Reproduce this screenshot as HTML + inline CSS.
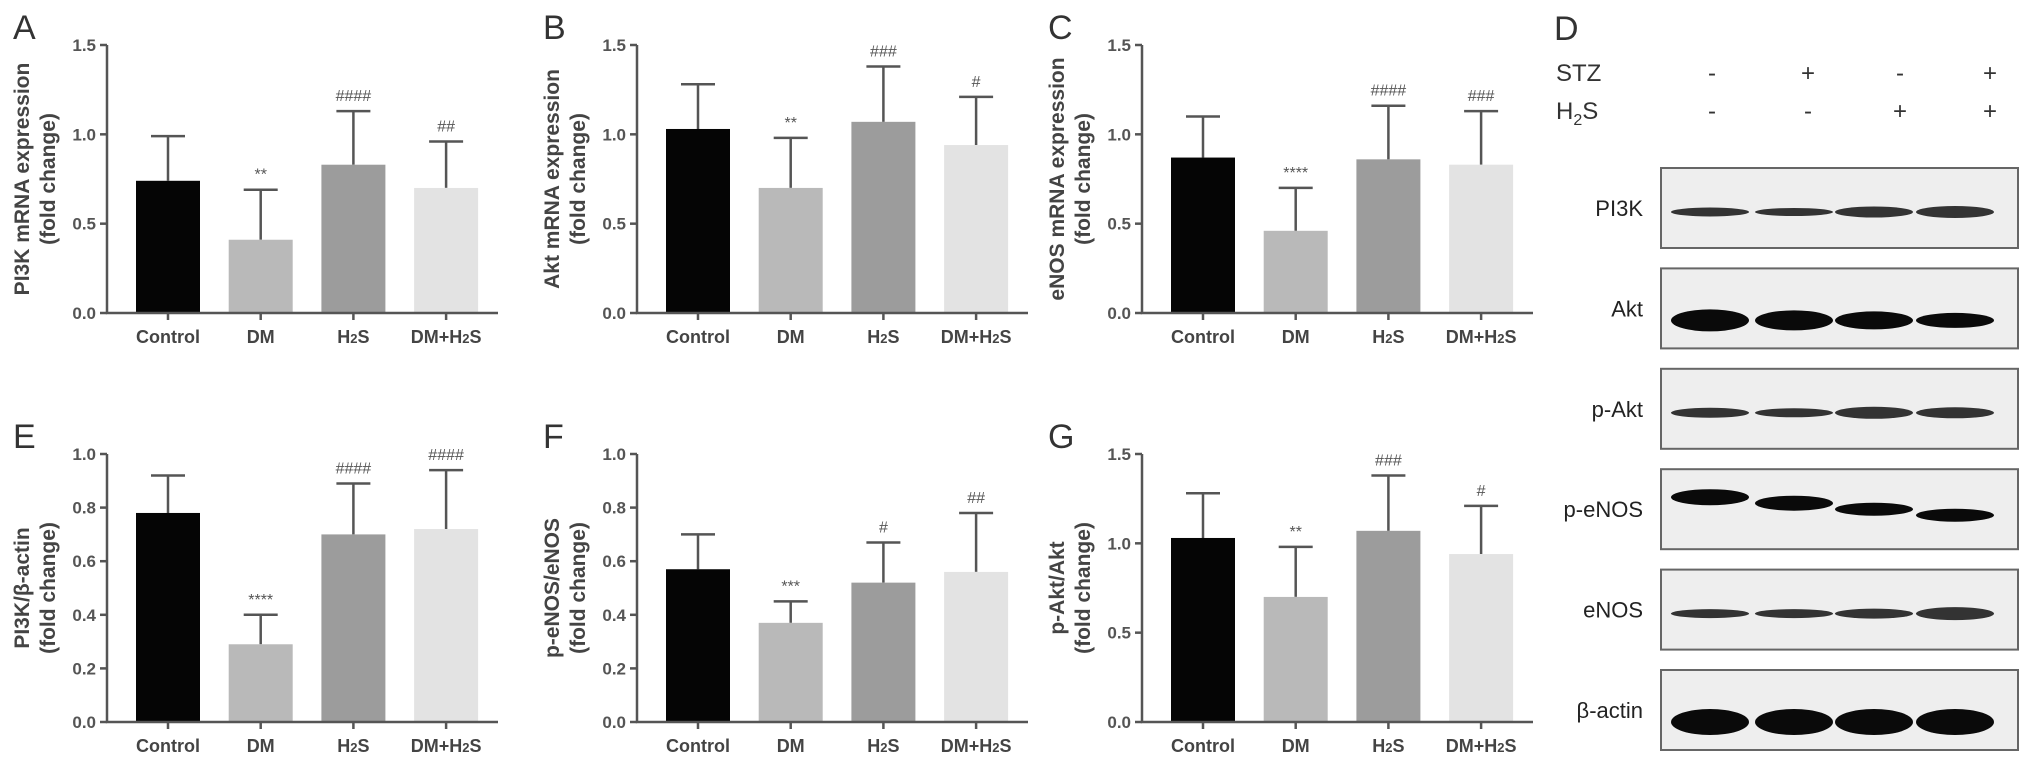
<!DOCTYPE html>
<html><head><meta charset="utf-8">
<style>
html,body{margin:0;padding:0;background:#fff;}
svg{display:block;font-family:"Liberation Sans",Arial,sans-serif;}
</style></head>
<body>
<svg id="fig" width="2031" height="764" viewBox="0 0 2031 764" xmlns="http://www.w3.org/2000/svg"></svg>
<script>
const categories = ["Control","DM","H2S","DM+H2S"];
const meansA = [0.74,0.41,0.83,0.70];
const errA   = [0.25,0.28,0.30,0.26];
const sigA   = ["","**","####","##"];
const meansB = [1.03,0.70,1.07,0.94];
const errB   = [0.25,0.28,0.31,0.27];
const sigB   = ["","**","###","#"];
const meansC = [0.87,0.46,0.86,0.83];
const errC   = [0.23,0.24,0.30,0.30];
const sigC   = ["","****","####","###"];
const meansE = [0.78,0.29,0.70,0.72];
const errE   = [0.14,0.11,0.19,0.22];
const sigE   = ["","****","####","####"];
const meansF = [0.57,0.37,0.52,0.56];
const errF   = [0.13,0.08,0.15,0.22];
const sigF   = ["","***","#","##"];
const meansG = [1.03,0.70,1.07,0.94];
const errG   = [0.25,0.28,0.31,0.27];
const sigG   = ["","**","###","#"];
const ticks15 = [0,0.5,1.0,1.5];
const ticks10 = [0,0.2,0.4,0.6,0.8,1.0];
const barColors = ["#050505","#b9b9b9","#9c9c9c","#e3e3e3"];

const NS="http://www.w3.org/2000/svg";
const svg=document.getElementById('fig');
function mk(tag,attrs,parent){const e=document.createElementNS(NS,tag);for(const k in attrs)e.setAttribute(k,attrs[k]);(parent||svg).appendChild(e);return e;}

function panel(key,letter,ax,top,zero,ymax,ticks,means,errs,sigs,title1,title2){
  const g=mk('g',{});
  
  
  const axEnd=ax+391;
  const y=v=>zero-(v/ymax)*(zero-top);
  const xc=i=>ax+61+i*92.7;
  const L=mk('text',{x:ax-94,y:top-6,'font-size':34,fill:'#333'},g);
  L.textContent=letter;
  
  
  means.forEach((m,i)=>{
    const x=xc(i);
    const eb=mk('path',{d:`M${x} ${y(m)}V${y(m+errs[i])}M${x-17} ${y(m+errs[i])}H${x+17}`,stroke:'#555','stroke-width':2.5,fill:'none'},g);
    
    
    const r=mk('rect',{x:x-32,y:y(m),width:64,height:zero-y(m),fill:barColors[i]},g);
    
    
    if(sigs[i]){
      const s=mk('text',{x:x,y:y(m+errs[i])-10,'font-size':16,'text-anchor':'middle',fill:'#555'},g);
      s.textContent=sigs[i];
      
      
    }
    const c=mk('text',{x:x,y:zero+30,'font-size':18,'font-weight':'bold','text-anchor':'middle',fill:'#444'},g);
    
    
    const lab=categories[i];
    if(lab.indexOf('H2S')>=0){
      c.textContent=lab.replace('H2S','H');
      const sub=mk('tspan',{'font-size':13},c);sub.textContent='2';
      const t2=mk('tspan',{},c);t2.textContent='S';
    } else c.textContent=lab;
  });
  const axl=mk('path',{d:`M${ax} ${top}V${zero}H${axEnd}`,stroke:'#555','stroke-width':2.5,fill:'none'},g);
  
  
  ticks.forEach(t=>{
    mk('path',{d:`M${ax-7} ${y(t)}H${ax}`,stroke:'#555','stroke-width':2.5},g);
    const tl=mk('text',{x:ax-11,y:y(t)+6,'font-size':17,'text-anchor':'end',fill:'#555','font-weight':'bold'},g);
    tl.textContent=t.toFixed(1);
    
    
  });
  categories.forEach((c,i)=>mk('path',{d:`M${xc(i)} ${zero}V${zero+7}`,stroke:'#555','stroke-width':2.5},g));
  const mid=(top+zero)/2;
  const t=mk('text',{transform:`translate(${ax-78},${mid}) rotate(-90)`,'font-size':21,'text-anchor':'middle',fill:'#444','font-weight':'bold'},g);
  
  
  const s1=mk('tspan',{x:0,dy:0},t);s1.textContent=title1;
  const s2=mk('tspan',{x:0,dy:26},t);s2.textContent=title2;
}
panel('a','A',107,45,313,1.5,ticks15,meansA,errA,sigA,'PI3K mRNA expression','(fold change)');
panel('b','B',637,45,313,1.5,ticks15,meansB,errB,sigB,'Akt mRNA expression','(fold change)');
panel('c','C',1142,45,313,1.5,ticks15,meansC,errC,sigC,'eNOS mRNA expression','(fold change)');
panel('e','E',107,454,722,1.0,ticks10,meansE,errE,sigE,'PI3K/β-actin','(fold change)');
panel('f','F',637,454,722,1.0,ticks10,meansF,errF,sigF,'p-eNOS/eNOS','(fold change)');
panel('g','G',1142,454,722,1.5,ticks15,meansG,errG,sigG,'p-Akt/Akt','(fold change)');

const blotNames=["PI3K","Akt","p-Akt","p-eNOS","eNOS","β-actin"];
const bandThick=[[9,8,11,12],[22,20,18,15],[10,9,12,11],[16,15,13,13],[9,9,10,13],[26,26,26,26]];
const stzSigns=["-","+","-","+"];
const h2sSigns=["-","-","+","+"];
const signX=[1712,1808,1900,1990];
const laneX=[1710,1794,1874,1955];
const D=mk('g',{});


const dl=mk('text',{x:1554,y:40,'font-size':34,fill:'#333'},D);dl.textContent='D';
const st=mk('text',{x:1556,y:81,'font-size':24,fill:'#333'},D);st.textContent='STZ';

const hs=mk('text',{x:1556,y:119,'font-size':24,fill:'#333'},D);hs.textContent='H';
const hsub=mk('tspan',{'font-size':16,dy:6},hs);hsub.textContent='2';
const hs2=mk('tspan',{dy:-6},hs);hs2.textContent='S';

signX.forEach((x,i)=>{
  const a=mk('text',{x:x,y:81,'font-size':24,'text-anchor':'middle',fill:'#333'},D);a.textContent=stzSigns[i];
  
  const b=mk('text',{x:x,y:119,'font-size':24,'text-anchor':'middle',fill:'#333'},D);b.textContent=h2sSigns[i];
  
});
blotNames.forEach((n,r)=>{
  const y0=168+r*100.4;
  const box=mk('rect',{x:1661,y:y0,width:357,height:80,fill:'#eeeeee',stroke:'#666','stroke-width':2},D);
  
  
  const lb=mk('text',{x:1643,y:y0+48,'font-size':22,'text-anchor':'end',fill:'#222'},D);
  lb.textContent=n;
  
  
  laneX.forEach((x,i)=>{
    let cy=y0+44;
    if(n==='p-eNOS') cy=y0+28+i*6;
    if(n==='Akt'||n==='β-actin') cy=y0+52;
    const h=bandThick[r][i];
    const band=mk('ellipse',{cx:x,cy:cy,rx:39,ry:h/2,fill:n==='PI3K'||n==='eNOS'||n==='p-Akt'?'#333':'#0a0a0a'},D);
    
    
  });
});
</script>
</body></html>
